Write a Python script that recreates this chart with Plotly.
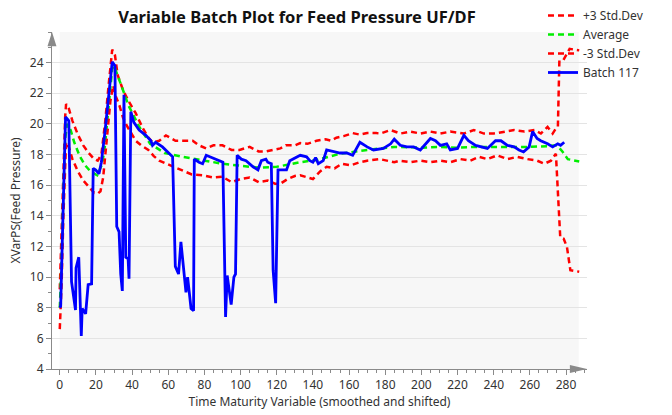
'''
    Variable batch plot for feed pressure (UF/DF): control band,
    average trajectory and one batch.
'''

import plotly.graph_objects as go

# +3 std dev band
upper_x = [0, 1, 2, 3, 3.5, 5, 7, 10, 13, 16, 19, 21, 23, 25, 27, 29, 30.5, 32, 35, 38,
           42, 46, 49, 51.3, 55, 58.7, 64, 68, 73.5, 77, 81, 85, 90, 95, 99.4, 105, 110,
           114, 118, 122, 125, 130, 133, 137, 142, 147, 150, 153, 157, 162, 166, 170,
           175, 177.2, 183, 188.3, 194, 199.4, 205, 210.5, 216, 223.5, 229, 234.6, 240,
           245.7, 251.3, 257, 262.6, 266.1, 269.8, 272.6, 274.4, 275.5, 276.3, 278, 279,
           282, 287.3]
upper_y = [9.2, 13.0, 17.5, 20.5, 21.3, 21.0, 20.2, 19.3, 18.6, 18.1, 17.7, 17.6, 18.0,
           20.0, 22.5, 24.85, 24.5, 23.2, 22.2, 21.5, 20.7, 19.7, 19.1, 18.8, 18.9, 19.25,
           18.9, 18.9, 18.9, 18.6, 18.4, 18.6, 18.6, 18.3, 18.3, 18.5, 18.2, 18.2, 18.3,
           18.4, 18.6, 18.6, 18.75, 18.7, 18.9, 19.0, 18.9, 19.1, 19.2, 19.4, 19.3, 19.4,
           19.4, 19.37, 19.6, 19.37, 19.5, 19.37, 19.5, 19.37, 19.5, 19.37, 19.6, 19.37,
           19.37, 19.5, 19.6, 19.5, 19.6, 19.37, 19.8, 19.37, 19.7, 19.8, 24.05, 24.05,
           24.25, 24.9, 24.8]

# average trajectory
avg_x = [0, 1, 2, 3, 4, 6, 8, 11, 14, 17, 20.7, 23.5, 25, 27, 29, 30, 32, 35, 38, 44, 50,
         58, 68, 79, 90, 105, 110, 120, 133, 142, 155, 170, 185, 200, 210, 220, 230, 240,
         250, 260, 270, 275, 278, 281, 287.3]
avg_y = [8.0, 11.0, 15.5, 19.0, 20.0, 19.6, 18.8, 17.9, 17.3, 16.9, 16.65, 17.4, 18.6,
         21.0, 23.6, 23.8, 23.1, 22.2, 21.2, 19.8, 18.7, 18.1, 17.85, 17.6, 17.4, 17.2,
         17.15, 17.2, 17.5, 17.65, 18.05, 18.3, 18.5, 18.45, 18.5, 18.45, 18.5, 18.5,
         18.5, 18.5, 18.55, 18.6, 18.2, 17.7, 17.55]

# -3 std dev band
lower_x = [0, 1, 2, 3, 3.5, 5, 7, 10, 13, 16, 19, 21, 22.5, 24, 26, 28, 29.5, 31, 33, 35,
           37, 40, 42, 45, 49, 52, 55, 59, 63, 68, 73, 79, 85, 90, 95, 100, 105, 110, 115,
           119, 122, 126, 130, 133, 137, 140, 144, 147.6, 152, 156, 161, 166, 170, 175,
           177, 185, 188, 194, 199.4, 205, 210.5, 216, 221.7, 227, 232, 236.5, 242, 247.6,
           253, 258.7, 264, 268, 271.7, 274.4, 276.8, 278.7, 280.5, 282.4, 287.3]
lower_y = [6.6, 9.5, 14.0, 18.3, 18.8, 18.5, 17.7, 16.9, 16.3, 15.9, 15.5, 15.45, 15.6,
           16.5, 19.0, 21.5, 22.5, 21.8, 21.2, 20.4, 19.9, 19.3, 18.9, 18.6, 18.3, 17.9,
           17.6, 17.4, 17.2, 16.9, 16.7, 16.65, 16.5, 16.55, 16.2, 16.4, 16.5, 16.2, 16.3,
           16.1, 16.1, 16.4, 16.6, 16.65, 16.5, 16.4, 16.9, 17.2, 17.1, 17.4, 17.3, 17.5,
           17.6, 17.7, 17.7, 17.5, 17.6, 17.5, 17.6, 17.5, 17.6, 17.5, 17.7, 17.6, 17.85,
           17.7, 17.95, 17.7, 17.85, 17.7, 17.6, 17.4, 17.6, 18.05, 12.6, 12.5, 11.97,
           10.45, 10.35]

# batch 117
batch_x = [0, 0.5, 1, 2, 3.2, 5, 6.5, 8.7, 9, 10.5, 11.9, 12.4, 14.3, 15.7, 17.6, 18.5,
           19.8, 21.7, 23, 25, 27, 29, 30.5, 31.5, 32.8, 33.7, 34.6, 35.5, 36.5, 37.8,
           38.3, 39.3, 41, 43.9, 47.6, 50.4, 51.3, 53, 56.8, 59.6, 62.4, 63.9, 65.7, 67,
           67.9, 69.8, 70.7, 72.6, 74, 74.4, 77, 79, 81, 86.5, 90.2, 91.7, 92.6, 94.8,
           96.3, 97.2, 98.1, 100.4, 103, 106.9, 109.6, 111.5, 114, 115, 117, 118, 119.4,
           120.7, 125.4, 127.2, 133, 136.5, 138.3, 140, 141.5, 143, 145.7, 147.6, 151.3,
           155, 158.7, 162, 166, 170, 173.5, 179, 183, 185, 188.3, 192, 195.7, 199.4, 205,
           207.8, 210.5, 214, 216, 220, 223.5, 226, 230, 232.8, 236.5, 241, 244, 247.6,
           251.3, 254, 256.5, 259.6, 261.5, 264, 266, 269.8, 272.6, 275.4, 277, 279]
batch_y = [8.0, 8.1, 10.5, 15.0, 20.45, 20.2, 9.7, 7.85, 10.6, 11.3, 6.15, 7.95, 7.6, 9.5,
           9.55, 17.1, 17.0, 16.75, 17.5, 19.5, 22.0, 24.05, 23.8, 13.3, 12.95, 10.2, 9.1,
           21.9, 11.3, 11.2, 9.9, 20.8, 20.1, 19.6, 19.25, 18.9, 18.6, 18.8, 18.5, 18.2,
           17.85, 10.7, 10.2, 12.3, 11.3, 9.0, 10.0, 7.95, 7.8, 17.7, 17.5, 17.4, 17.95,
           17.7, 17.5, 7.4, 10.1, 8.2, 10.0, 10.2, 17.95, 17.7, 17.6, 17.2, 17.0, 17.6,
           17.7, 17.5, 17.4, 10.45, 8.3, 17.0, 17.0, 17.6, 17.95, 17.85, 17.6, 17.5, 17.8,
           17.4, 17.6, 18.3, 18.2, 18.1, 18.1, 17.95, 18.8, 18.5, 18.3, 18.4, 18.7, 19.0,
           18.6, 18.5, 18.5, 18.3, 19.05, 18.9, 18.6, 18.7, 18.3, 18.4, 19.25, 18.9, 18.6,
           18.5, 18.4, 18.9, 18.9, 18.6, 18.5, 18.3, 18.17, 18.5, 19.5, 19.05, 18.9, 18.7,
           18.5, 18.7, 18.6, 18.8]

y_ticks = [4, 6, 8, 10, 12, 14, 16, 18, 20, 22, 24]

FONT = 'Noto Sans'
AXIS_GREY = '#8a8a8a'
DASH = '6px,4px'

fig = go.Figure()

fig.add_trace(go.Scatter(x=upper_x, y=upper_y, name='+3 Std.Dev', mode='lines',
                         legendgroup='g1',
                         line=dict(color='#ff0000', width=2.5, dash=DASH)))
fig.add_trace(go.Scatter(x=avg_x, y=avg_y, name='Average', mode='lines',
                         legendgroup='g2',
                         line=dict(color='#00ee00', width=2.5, dash=DASH)))
fig.add_trace(go.Scatter(x=lower_x, y=lower_y, name='-3 Std.Dev', mode='lines',
                         legendgroup='g3',
                         line=dict(color='#ff0000', width=2.5, dash=DASH)))
fig.add_trace(go.Scatter(x=batch_x, y=batch_y, name='Batch 117', mode='lines',
                         legendgroup='g4',
                         line=dict(color='#0000ff', width=2.8)))

# light grey band behind the data, and the arrow heads on the axes
fig.add_shape(type='rect', xref='x', yref='y', x0=0, x1=287, y0=4, y1=26,
              fillcolor='#f7f7f7', line_width=0, layer='below')
fig.add_shape(type='path', xref='paper', yref='paper',
              path='M -0.0084,0.958 L 0.0084,0.958 L 0,1 Z',
              fillcolor=AXIS_GREY, line_width=0)
fig.add_shape(type='path', xref='paper', yref='paper',
              path='M 0.968,-0.0119 L 0.968,0.0119 L 1,0 Z',
              fillcolor=AXIS_GREY, line_width=0)

fig.update_layout(
    width=672, height=415,
    margin=dict(l=52, r=85, t=32, b=46, autoexpand=False),
    paper_bgcolor='white', plot_bgcolor='white',
    font=dict(family=FONT, size=12, color='#333333'),
    title=dict(text='<b>Variable Batch Plot for Feed Pressure UF/DF</b>',
               x=297 / 672, xanchor='center', xref='container',
               y=1 - 17 / 415, yanchor='middle', yref='container',
               font=dict(family=FONT, size=16.5, color='#111111')),
    legend=dict(x=543 / 672, xref='container', y=1 - 1 / 415, yref='container',
                xanchor='left', yanchor='top', bgcolor='rgba(0,0,0,0)',
                font=dict(size=12, color='#333333'), itemwidth=30,
                traceorder='grouped', tracegroupgap=0),
    showlegend=True,
)

fig.update_xaxes(
    range=[-4.3, 291.6], showline=True, linecolor=AXIS_GREY, linewidth=1,
    tick0=0, dtick=20, ticks='outside', ticklen=5, tickcolor=AXIS_GREY,
    minor=dict(dtick=5, tick0=0, ticks='outside', ticklen=3, tickcolor=AXIS_GREY),
    showgrid=False, zeroline=False,
    title=dict(text='Time Maturity Variable (smoothed and shifted)', standoff=4,
               font=dict(size=12, color='#333333')),
    tickfont=dict(size=12, color='#333333'),
)
fig.update_yaxes(
    range=[4, 26], showline=True, linecolor=AXIS_GREY, linewidth=1,
    tickmode='array', tickvals=y_ticks, ticks='outside', ticklen=5,
    tickcolor=AXIS_GREY,
    minor=dict(tickmode='linear', dtick=1, tick0=0, ticks='outside', ticklen=3,
               tickcolor=AXIS_GREY),
    showgrid=True, gridcolor='#e4e4e4', gridwidth=1, zeroline=False,
    title=dict(text='XVarPS(Feed Pressure)', standoff=6,
               font=dict(size=12, color='#333333')),
    tickfont=dict(size=12, color='#333333'),
)

# the browser's default 8px body margin would push the figure off the window
fig.write_html('out.html', config={'displayModeBar': False},
               post_script="document.body.style.margin = '0';")
